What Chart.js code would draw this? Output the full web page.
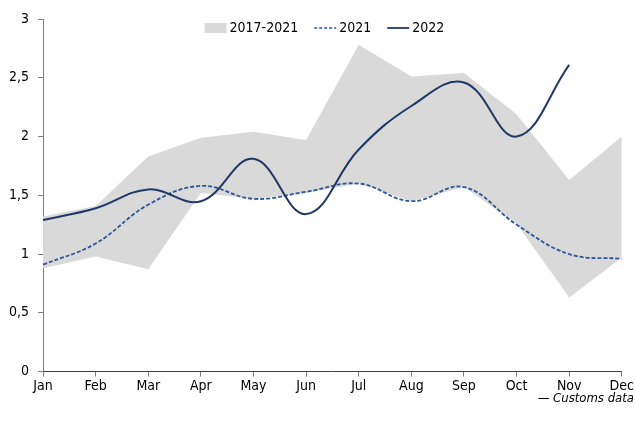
<!DOCTYPE html>
<html>
<head>
<meta charset="utf-8">
<script src="https://cdn.jsdelivr.net/npm/chart.js@4.4.1/dist/chart.umd.min.js"></script>
<style>
html,body{margin:0;padding:0;background:#fff;}
#wrap{width:635px;height:421px;position:relative;}
</style>
</head>
<body>
<div id="wrap"><canvas id="c" width="635" height="421"></canvas></div>
<script>
const months = ['Jan','Feb','Mar','Apr','May','Jun','Jul','Aug','Sep','Oct','Nov','Dec'];
const range2017_2021Max = [1.32,1.41,1.83,1.99,2.04,1.97,2.78,2.51,2.54,2.19,1.63,2.00];
const range2017_2021Min = [0.88,0.98,0.87,1.52,1.47,1.52,1.60,1.45,1.57,1.26,0.63,0.97];
const values2021 = [0.91,1.09,1.42,1.58,1.47,1.53,1.60,1.45,1.57,1.25,1.00,0.96];
const values2022 = [1.29,1.39,1.55,1.45,1.81,1.34,1.89,2.26,2.46,2.00,2.61,null];
const yTicks = [0,0.5,1,1.5,2,2.5,3];
const legendLabels = ['2017-2021','2021','2022'];
const sourceNote = '\u2014 Customs data';

const FONT = '"DejaVu Sans Condensed", "DejaVu Sans", sans-serif';
const BAND = '#d9d9d9';
const C2021 = '#2f5597';
const C2022 = '#1f3864';
const AXIS = '#7f7f7f';

Chart.defaults.font.family = FONT;
Chart.defaults.font.size = 13;
Chart.defaults.color = '#000';

// legend drawn inside the plot area, at its top
const topLegend = {
  id: 'topLegend',
  afterDraw(chart) {
    const ctx = chart.ctx;
    const ca = chart.chartArea;
    const items = [
      {type: 'box', color: BAND},
      {type: 'line', color: C2021, dash: [3, 2], width: 1.5},
      {type: 'line', color: C2022, dash: [], width: 1.8}
    ];
    ctx.save();
    ctx.font = '14px ' + FONT;
    const sym = 22, gapT = 3, gapI = 16;
    const widths = legendLabels.map(t => ctx.measureText(t).width);
    let total = 0;
    widths.forEach((w, i) => { total += sym + gapT + w + (i < widths.length - 1 ? gapI : 0); });
    let x = (ca.left + ca.right) / 2 - 8 - total / 2;
    const y = ca.top + 9;
    ctx.textBaseline = 'middle';
    ctx.textAlign = 'left';
    items.forEach((it, i) => {
      if (it.type === 'box') {
        ctx.fillStyle = it.color;
        ctx.fillRect(x, y - 5, sym, 10);
      } else {
        ctx.strokeStyle = it.color;
        ctx.lineWidth = it.width;
        ctx.setLineDash(it.dash);
        ctx.beginPath();
        ctx.moveTo(x, y);
        ctx.lineTo(x + sym, y);
        ctx.stroke();
        ctx.setLineDash([]);
      }
      x += sym + gapT;
      ctx.fillStyle = '#000';
      ctx.fillText(legendLabels[i], x, y);
      x += widths[i] + gapI;
    });
    ctx.restore();
  }
};

new Chart(document.getElementById('c'), {
  type: 'line',
  data: {
    labels: months,
    datasets: [
      {label: legendLabels[0], data: range2017_2021Max, borderWidth: 0, pointRadius: 0, backgroundColor: BAND, fill: '+1', tension: 0, order: 3},
      {label: legendLabels[0] + ' min', data: range2017_2021Min, borderWidth: 0, pointRadius: 0, backgroundColor: BAND, fill: false, tension: 0, order: 3},
      {label: legendLabels[1], data: values2021, borderColor: C2021, borderWidth: 1.8, borderDash: [4, 2], pointRadius: 0, fill: false, tension: 0.4, order: 2},
      {label: legendLabels[2], data: values2022, borderColor: C2022, borderWidth: 2, pointRadius: 0, fill: false, tension: 0.4, order: 1}
    ]
  },
  options: {
    responsive: false,
    animation: false,
    layout: {padding: {top: 19, right: 1, left: 0, bottom: 0}},
    plugins: {
      tooltip: {enabled: false},
      legend: {display: false},
      title: {
        display: true,
        position: 'bottom',
        align: 'end',
        text: sourceNote,
        font: {family: FONT, size: 13, style: 'italic', weight: 'normal'},
        color: '#000',
        padding: {top: -5, bottom: 15}
      }
    },
    scales: {
      x: {
        offset: false,
        grid: {display: true, drawOnChartArea: false, drawTicks: true, tickLength: 5, color: AXIS},
        border: {display: true, color: '#404040', width: 1},
        ticks: {padding: 1, font: {family: FONT, size: 14}, color: '#000', maxRotation: 0, autoSkip: false}
      },
      y: {
        min: 0, max: 3,
        afterBuildTicks: (axis) => { axis.ticks = yTicks.map(v => ({value: v})); },
        grid: {display: true, drawOnChartArea: false, drawTicks: true, tickLength: 5, color: AXIS},
        border: {display: true, color: AXIS, width: 1},
        ticks: {padding: 9, font: {family: FONT, size: 14}, color: '#000',
          callback: (v) => String(v).replace('.', ',')}
      },
      ySpacer: {
        position: 'right',
        min: 0, max: 3,
        display: true,
        grid: {display: false, drawTicks: false},
        border: {display: false},
        ticks: {display: false},
        afterFit: (axis) => { axis.width = 12; }
      }
    }
  },
  plugins: [topLegend]
});
</script>
</body>
</html>
